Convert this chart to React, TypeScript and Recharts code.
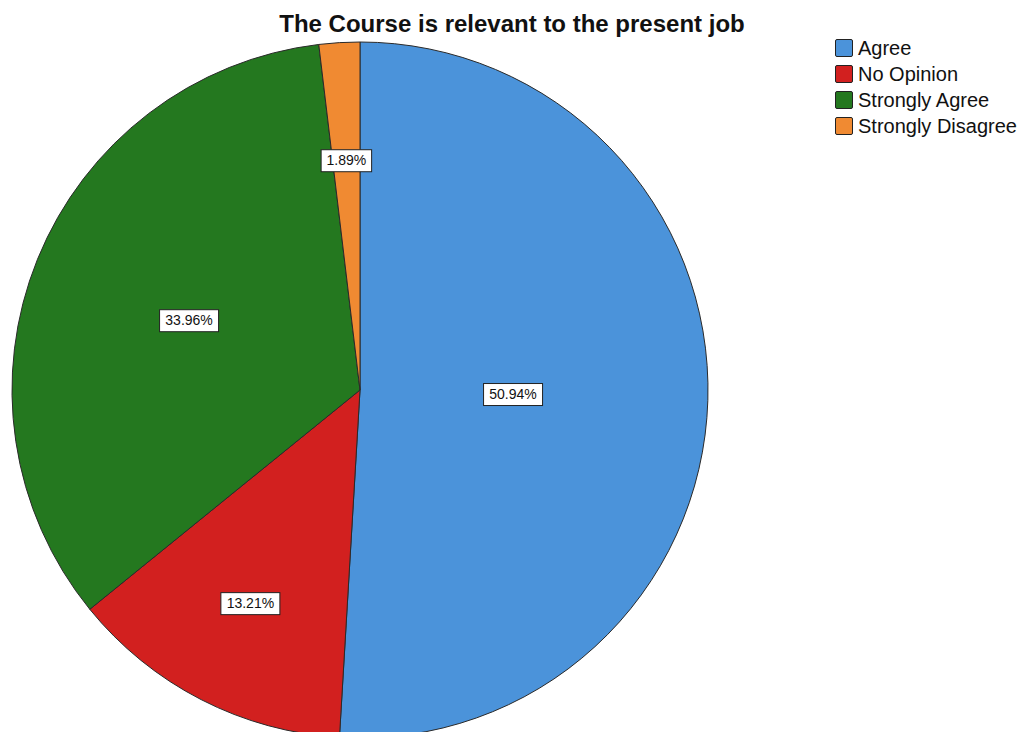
import { PieChart, Pie, Cell, Legend } from "recharts";

const categories = ["Agree", "No Opinion", "Strongly Agree", "Strongly Disagree"];
const percents = [50.94, 13.21, 33.96, 1.89];

const COLORS: Record<string, string> = {
  Agree: "#4b93da",
  "No Opinion": "#d2201f",
  "Strongly Agree": "#24781f",
  "Strongly Disagree": "#f08a32",
};

// how far out (fraction of radius) each slice label sits, as in the original
const LABEL_POS: Record<string, number> = {
  Agree: 0.44,
  "No Opinion": 0.69,
  "Strongly Agree": 0.53,
  "Strongly Disagree": 0.66,
};

const data = categories.map((name, i) => ({ name, value: percents[i] }));

const FONT = "Arial, 'Liberation Sans', sans-serif";
const RAD = Math.PI / 180;

function renderLabel(props: any) {
  const { cx, cy, midAngle, outerRadius, name, value } = props;
  const r = outerRadius * (LABEL_POS[name] ?? 0.6);
  const x = cx + r * Math.cos(-midAngle * RAD);
  const y = cy + r * Math.sin(-midAngle * RAD);
  const text = `${value.toFixed(2)}%`;
  const w = text.length * 8.5 + 8;
  return (
    <g>
      <rect x={x - w / 2} y={y - 11} width={w} height={22} fill="#fff" stroke="#222" strokeWidth={1} />
      <text x={x} y={y + 1} textAnchor="middle" dominantBaseline="middle" fontSize={14} fontFamily={FONT} fill="#111">
        {text}
      </text>
    </g>
  );
}

function LegendBox() {
  return (
    <div style={{ fontFamily: FONT, fontSize: 20, color: "#111" }}>
      {data.map((d) => (
        <div key={d.name} style={{ display: "flex", alignItems: "center", height: 26, whiteSpace: "nowrap" }}>
          <span
            style={{
              width: 18,
              height: 18,
              background: COLORS[d.name],
              border: "1.5px solid #222",
              borderRadius: 2,
              marginRight: 5,
              boxSizing: "border-box",
              flexShrink: 0,
            }}
          />
          {d.name}
        </div>
      ))}
    </div>
  );
}

export default function App() {
  return (
    <div style={{ position: "absolute", left: 0, top: 0, width: 1022, height: 732, background: "#fff" }}>
      <div
        style={{
          position: "absolute",
          left: 0,
          top: 10,
          width: 1024,
          textAlign: "center",
          fontFamily: FONT,
          fontWeight: "bold",
          fontSize: 24,
          color: "#111",
          zIndex: 2,
        }}
      >
        The Course is relevant to the present job
      </div>
      <PieChart width={1022} height={732} margin={{ top: 0, right: 0, bottom: 0, left: 0 }}>
        <Pie
          data={data}
          dataKey="value"
          nameKey="name"
          cx={360}
          cy={390}
          outerRadius={348}
          startAngle={90}
          endAngle={-270}
          stroke="#2a2a2a"
          strokeWidth={1}
          label={renderLabel}
          labelLine={false}
          isAnimationActive={false}
        >
          {data.map((d) => (
            <Cell key={d.name} fill={COLORS[d.name]} />
          ))}
        </Pie>
        <Legend
          layout="vertical"
          verticalAlign="top"
          align="right"
          content={() => <LegendBox />}
          wrapperStyle={{ position: "absolute", top: 35, left: 835, width: 187 }}
        />
      </PieChart>
    </div>
  );
}
